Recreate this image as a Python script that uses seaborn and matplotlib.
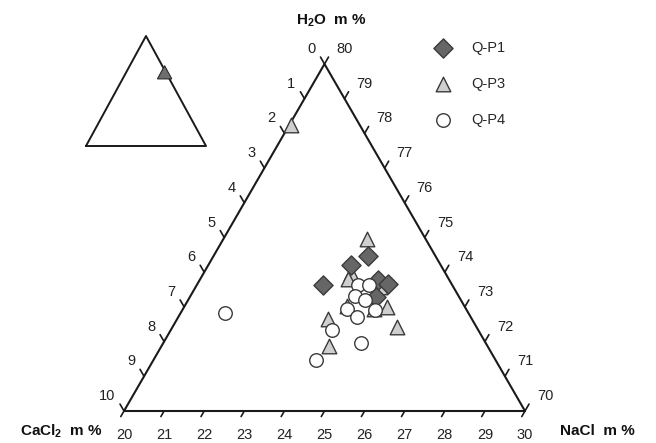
import numpy as np
import pandas as pd
import matplotlib
matplotlib.use("Agg")
import matplotlib.pyplot as plt
import seaborn as sns

# ---------------- data (mass %) ----------------
p1_nacl = [23.85, 23.55, 23.15, 24.45, 24.76, 24.64]
p1_h2o = [74.47, 74.21, 73.64, 73.78, 73.67, 73.29]
p3_nacl = [23.57, 23.67, 23.68, 24.59, 25.05, 24.05, 23.75, 25.59, 24.19, 20.05, 24.76]
p3_h2o = [74.97, 73.98, 73.81, 73.58, 73.00, 73.03, 72.66, 72.42, 71.86, 78.25, 72.94]
p4_nacl = [24.02, 24.30, 24.10, 24.41, 24.10, 24.44, 24.81, 24.01, 24.93, 24.05, 21.10]
p4_h2o = [73.64, 73.64, 73.32, 73.20, 72.94, 72.72, 72.90, 72.34, 71.95, 71.47, 72.83]
series_names = ["Q-P1", "Q-P3", "Q-P4"]

nacl_ticks = list(range(20, 31))      # bottom axis
cacl2_ticks = list(range(0, 11))      # left axis
h2o_ticks = list(range(70, 81))       # right axis

# inset: overview of the zoomed region (fractions of full triangle: NaCl, H2O)
inset_nacl = [0.29, 0.29, 0.41]
inset_h2o = [0.73, 0.61, 0.61]

S3 = np.sqrt(3) / 2


def tern(nacl, h2o):
    nacl = np.asarray(nacl, float)
    h2o = np.asarray(h2o, float)
    lt = (h2o - 70.0) / 10.0
    lbr = (nacl - 20.0) / 10.0
    return lbr + 0.5 * lt, lt * S3


sns.set_theme(style="white")
plt.rcParams["font.family"] = ["Liberation Sans", "DejaVu Sans"]
plt.rcParams["mathtext.fontset"] = "custom"
plt.rcParams["mathtext.rm"] = "Liberation Sans"
plt.rcParams["mathtext.bf"] = "Liberation Sans:bold"

W, H = 656, 443
fig = plt.figure(figsize=(W / 100, H / 100), dpi=100)
fig.patch.set_facecolor("white")

# main axes (pixel geometry)
x0, x1, yb, yt = 124, 525, 411, 64
ax = fig.add_axes([x0 / W, (H - yb) / H, (x1 - x0) / W, (yb - yt) / H])
ax.set_xlim(0, 1)
ax.set_ylim(0, S3)
ax.axis("off")

lc = "#1a1a1a"
# triangle frame
vx, vy = tern([20, 30, 20, 20], [70, 70, 80, 70])
ax.plot(vx, vy, color=lc, lw=1.5, clip_on=False, zorder=2)

tl = 0.02
fs = 10.5
# bottom ticks (NaCl)
for v in nacl_ticks:
    bx, by = tern(v, 70)
    ax.plot([bx, bx - 0.5 * 0.016], [by, by - S3 * 0.016], color=lc, lw=1.2, clip_on=False)
    ax.text(bx, -0.06, str(v), ha="center", va="center", fontsize=fs, color="#222")
# left ticks (CaCl2)
for v in cacl2_ticks:
    bx, by = tern(20, 80 - v)
    ax.plot([bx, bx - 0.5 * tl], [by, by + S3 * tl], color=lc, lw=1.2, clip_on=False)
    ax.text(bx - 9 / 401, by + 15 / 401, str(v), ha="right", va="center", fontsize=fs, color="#222")
# right ticks (H2O)
for v in h2o_ticks:
    bx, by = tern(30 - (v - 70), v)
    ax.plot([bx, bx + 0.5 * tl], [by, by + S3 * tl], color=lc, lw=1.2, clip_on=False)
    ax.text(bx + 12 / 401, by + 15 / 401, str(v), ha="left", va="center", fontsize=fs, color="#222")

# axis titles
fig.text(331 / W, 1 - 21 / H, r"H$_\mathbf{2}$O  m %", ha="center", va="center",
         fontsize=11, fontweight="bold", color="#111")
fig.text(61 / W, 1 - 431 / H, r"CaCl$_\mathbf{2}$  m %", ha="center", va="center",
         fontsize=11, fontweight="bold", color="#111")
fig.text(597 / W, 1 - 431 / H, "NaCl  m %", ha="center", va="center",
         fontsize=11, fontweight="bold", color="#111")

# data
rows = []
for name, nn, ww in zip(series_names, [p1_nacl, p3_nacl, p4_nacl], [p1_h2o, p3_h2o, p4_h2o]):
    xx, yy = tern(nn, ww)
    for a, b in zip(xx, yy):
        rows.append({"x": a, "y": b, "series": name})
df = pd.DataFrame(rows)

styles = {
    "Q-P1": dict(marker="D", s=95, color="#666666", edgecolor="#3a3a3a", z=4),
    "Q-P3": dict(marker="^", s=110, color="#cfcfcf", edgecolor="#3a3a3a", z=3),
    "Q-P4": dict(marker="o", s=95, color="#ffffff", edgecolor="#3a3a3a", z=5),
}
for name in series_names:
    st = styles[name]
    sns.scatterplot(data=df[df.series == name], x="x", y="y", ax=ax, marker=st["marker"],
                    s=st["s"], color=st["color"], edgecolor=st["edgecolor"], linewidth=1.0,
                    zorder=st["z"], label=name, clip_on=False, legend=True)

handles, labels = ax.get_legend_handles_labels()
order = [labels.index(n) for n in series_names]
leg = ax.legend([handles[i] for i in order], [labels[i] for i in order],
                loc="upper left", bbox_to_anchor=(436 / W, 1 - 41 / H),
                bbox_transform=fig.transFigure, frameon=False, fontsize=fs,
                labelspacing=1.5, handlelength=1.0, handletextpad=1.4,
                borderpad=0, borderaxespad=0, scatterpoints=1)
ax.set_xlabel("")
ax.set_ylabel("")

# inset overview triangle
ix0, ix1, iyb, iyt = 86, 206, 146, 36
iax = fig.add_axes([ix0 / W, (H - iyb) / H, (ix1 - ix0) / W, (iyb - iyt) / H])
iax.set_xlim(0, 1)
iax.set_ylim(0, 1)
iax.axis("off")
iax.plot([0, 1, 0.5, 0], [0, 0, 1, 0], color=lc, lw=1.4, clip_on=False)
inx = np.array(inset_nacl) + 0.5 * np.array(inset_h2o)
iny = np.array(inset_h2o)
iax.fill(inx, iny, facecolor="#6e6e6e", edgecolor="#2a2a2a", lw=0.8, zorder=3)

fig.savefig("out.png", dpi=100, facecolor="white")
